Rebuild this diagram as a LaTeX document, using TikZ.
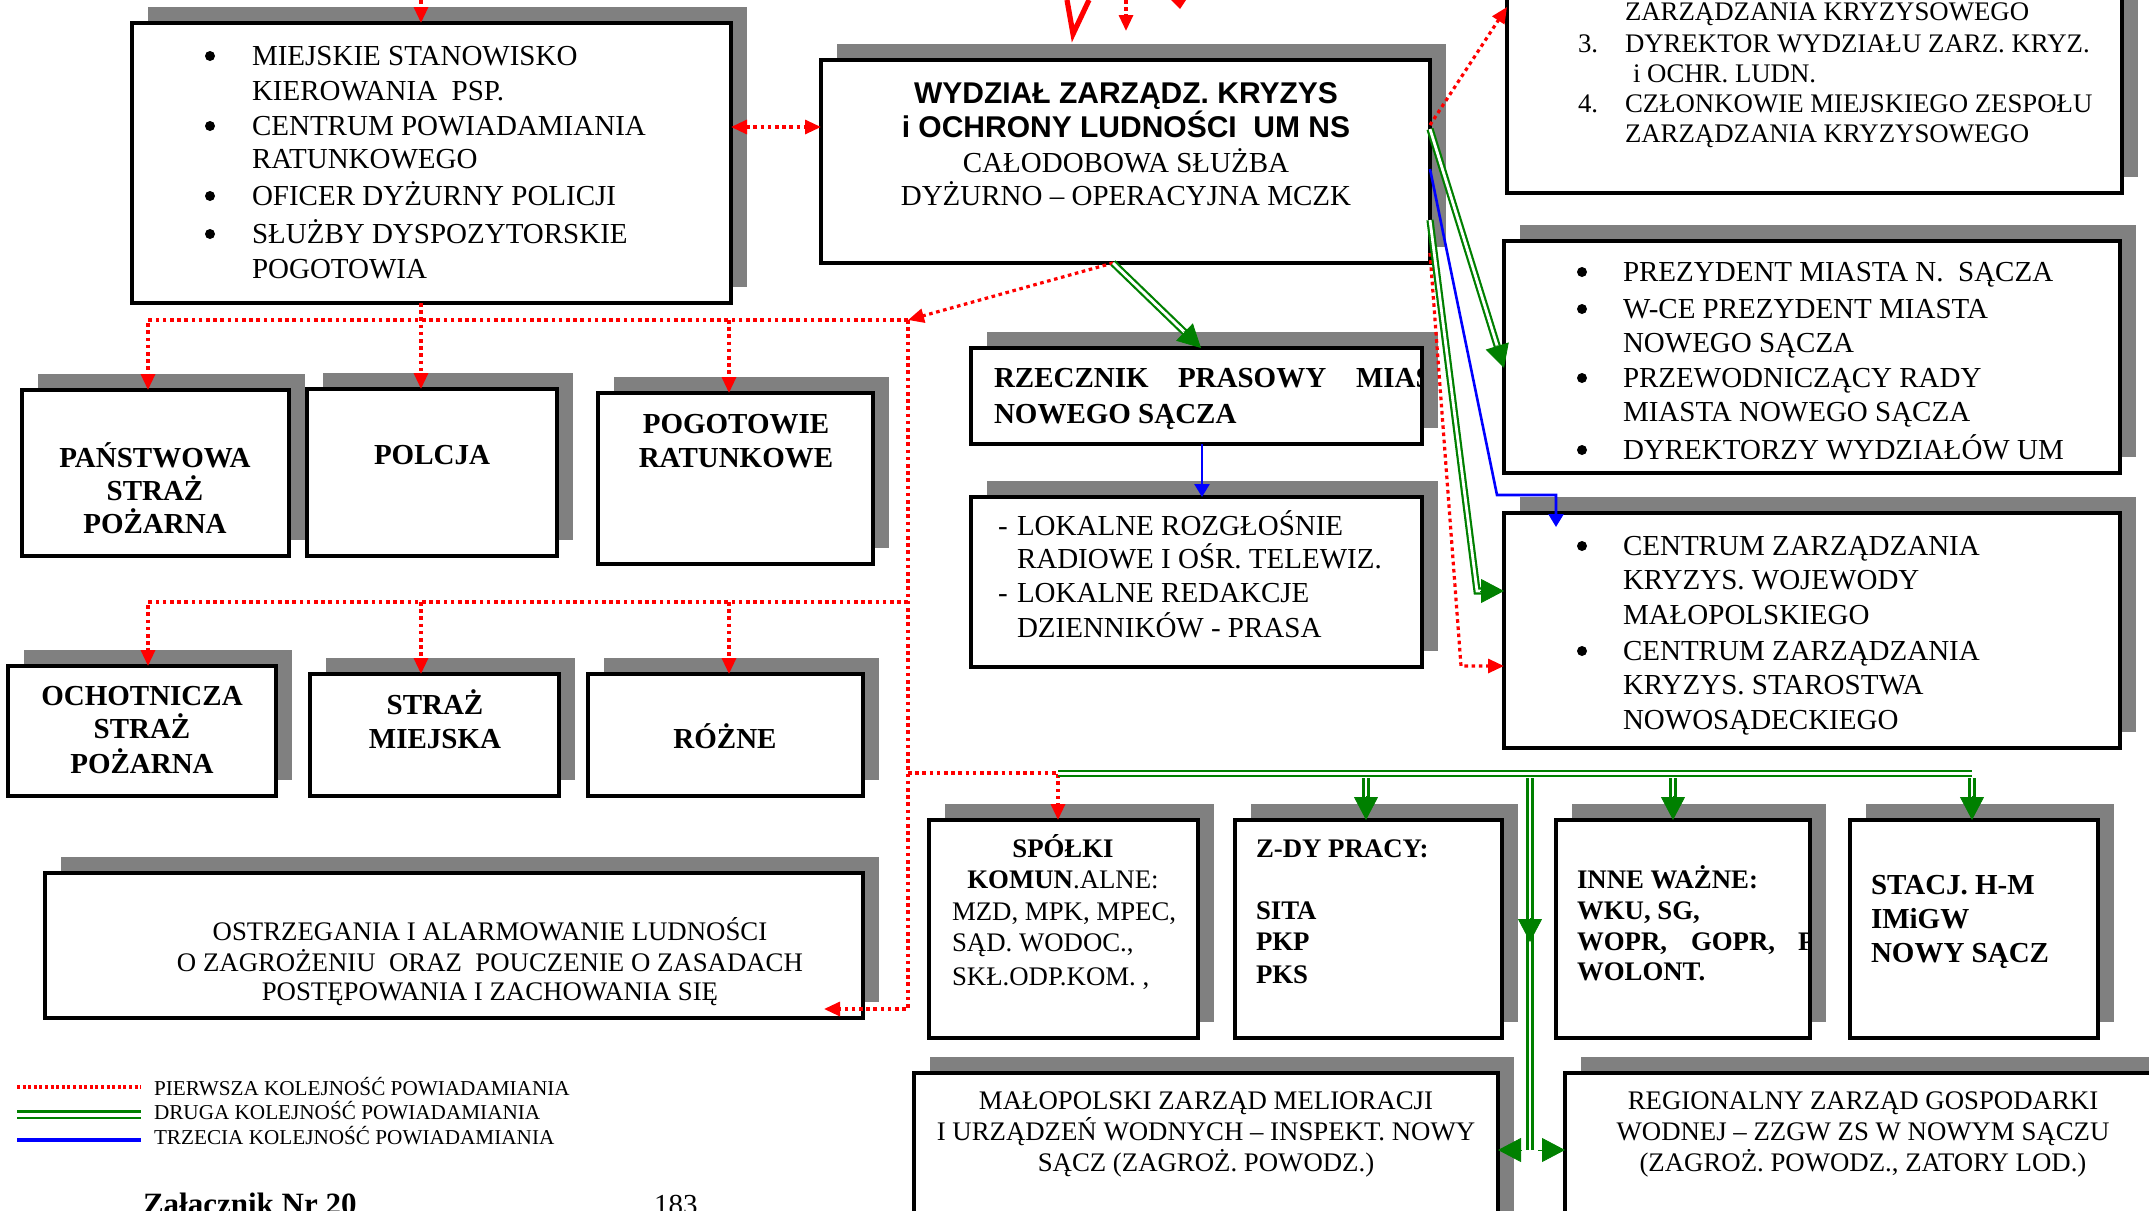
\documentclass[tikz,border=0pt]{standalone}
\usepackage{fontspec}
\setmainfont{Liberation Serif}
\newfontfamily\sansbold{Liberation Sans}
\usetikzlibrary{arrows.meta,calc,fit,shadows}
\definecolor{shadowgray}{RGB}{128,128,128}
\definecolor{lgreen}{RGB}{0,128,0}
\definecolor{lblue}{RGB}{0,0,255}
\definecolor{lred}{RGB}{255,0,0}
\tikzset{
  frame/.style={draw=black, fill=white, line width=1.6pt, inner sep=0pt, outer sep=0pt,
    drop shadow={shadow xshift=8pt, shadow yshift=8pt, fill=shadowgray, opacity=1}},
  heavy/.style={frame, line width=2.1pt},
  tL/.style={inner sep=0pt, outer sep=0pt, anchor=base west},
  tC/.style={inner sep=0pt, outer sep=0pt, anchor=base},
  dot/.style={circle, fill=black, draw=none, inner sep=0pt, minimum size=5pt},
  fbig/.style={font=\fontsize{14.5}{17}\selectfont},
  fbigb/.style={font=\fontsize{14.5}{17}\selectfont\bfseries},
  fmid/.style={font=\fontsize{13.4}{16}\selectfont},
  fmidb/.style={font=\fontsize{13.4}{16}\selectfont\bfseries},
  fleg/.style={font=\fontsize{10.6}{12}\selectfont},
  fttl/.style={font=\sansbold\bfseries\fontsize{15}{17}\selectfont},
  rd/.style={draw=lred, line width=1.6pt, dash pattern=on 1.8pt off 1.8pt},
  rtip/.style={-{Triangle[length=8pt,width=7pt]}},
  rtips/.style={{Triangle[length=8pt,width=7pt]}-{Triangle[length=8pt,width=7pt]}},
  gd/.style={draw=lgreen, line width=1.1pt, double=white, double distance=1.4pt},
  gtip/.style={draw=lgreen, line width=0.4pt, -{Triangle[length=11.5pt,width=12pt]}},
  bl/.style={draw=lblue, line width=1.3pt},
  btip/.style={-{Triangle[length=6.5pt,width=7.5pt]}},
}
% double green connector ending in a filled head: #1 leading path, #2 last bend, #3 tip
\newcommand\garrow[3]{%
  \draw[gd] #1 (#2) -- ($(#3)!10pt!(#2)$);
  \draw[gtip] ($(#3)!12pt!(#2)$) -- (#3);}
\begin{document}
\begin{tikzpicture}[x=0.5pt,y=-0.5pt]
\useasboundingbox (0,0) rectangle (2149,1211);
\clip (0,0) rectangle (2149,1211);
\fill[white] (0,0) rectangle (2149,1211);

% ---------- boxes ----------
\node[heavy, fit={(132,23)(731,303)}] (A) {};
\node[heavy, fit={(821,60)(1430,263)}] (B) {};
\node[frame, fit={(1507,-60)(2122,193)}] (C) {};
\node[frame, fit={(1504,241)(2120,473)}] (D) {};
\node[frame, fit={(1504,513)(2120,748)}] (E) {};
\node[frame, fit={(971,348)(1422,444)}] (RZ) {};
\node[frame, fit={(971,497)(1422,667)}] (LK) {};
\node[frame, fit={(22,390)(289,556)}] (PS) {};
\node[frame, fit={(307,389)(557,556)}] (PO) {};
\node[frame, fit={(598,393)(873,564)}] (PG) {};
\node[frame, fit={(8,666)(276,796)}] (OS) {};
\node[frame, fit={(310,674)(559,796)}] (SM) {};
\node[frame, fit={(588,674)(863,796)}] (RO) {};
\node[frame, fit={(45,873)(863,1018)}] (OST) {};
\node[frame, fit={(929,820)(1198,1038)}] (SP) {};
\node[frame, fit={(1235,820)(1502,1038)}] (ZD) {};
\node[frame, fit={(1556,820)(1810,1038)}] (IN) {};
\node[frame, fit={(1850,820)(2098,1038)}] (ST) {};
\node[frame, fit={(914,1073)(1498,1260)}] (MZ) {};
\node[frame, fit={(1565,1073)(2200,1260)}] (RG) {};

% ---------- texts ----------
% dispatch services
\node[dot] (ab1) at (210,56) {};
\node[tL,fbig] (a1) at (252,65) {MIEJSKIE STANOWISKO};
\node[tL,fbig] (a2) at (252,100) {KIEROWANIA~ PSP.};
\node[dot] (ab2) at (210,126) {};
\node[tL,fbig] (a3) at (252,135) {CENTRUM POWIADAMIANIA};
\node[tL,fbig] (a4) at (252,168) {RATUNKOWEGO};
\node[dot] (ab3) at (210,196) {};
\node[tL,fbig] (a5) at (252,205) {OFICER DYŻURNY POLICJI};
\node[dot] (ab4) at (210,234) {};
\node[tL,fbig] (a6) at (252,243) {SŁUŻBY DYSPOZYTORSKIE};
\node[tL,fbig] (a7) at (252,278) {POGOTOWIA};

% central unit
\node[tC,fttl] (b1) at (1126,103) {WYDZIAŁ ZARZĄDZ. KRYZYS};
\node[tC,fttl] (b2) at (1126,137) {i OCHRONY LUDNOŚCI~ UM NS};
\node[tC,fbig] (b3) at (1126,172) {CAŁODOBOWA SŁUŻBA};
\node[tC,fbig] (b4) at (1126,205) {DYŻURNO – OPERACYJNA MCZK};

% crisis team list
\node[tL,fmid] (c0) at (1625,20) {ZARZĄDZANIA KRYZYSOWEGO};
\node[tL,fmid] (c3n) at (1578,52) {3.};
\node[tL,fmid] (c3) at (1625,52) {DYREKTOR WYDZIAŁU ZARZ. KRYZ.};
\node[tL,fmid] (c3b) at (1633,82) {i OCHR. LUDN.};
\node[tL,fmid] (c4n) at (1578,112) {4.};
\node[tL,fmid] (c4) at (1625,112) {CZŁONKOWIE MIEJSKIEGO ZESPOŁU};
\node[tL,fmid] (c5) at (1625,142) {ZARZĄDZANIA KRYZYSOWEGO};

% city authorities
\node[dot] (db1) at (1582,272) {};
\node[tL,fbig] (d1) at (1623,281) {PREZYDENT MIASTA N.~ SĄCZA};
\node[dot] (db2) at (1582,309) {};
\node[tL,fbig] (d2) at (1623,318) {W-CE PREZYDENT MIASTA};
\node[tL,fbig] (d3) at (1623,352) {NOWEGO SĄCZA};
\node[dot] (db3) at (1582,378) {};
\node[tL,fbig] (d4) at (1623,387) {PRZEWODNICZĄCY RADY};
\node[tL,fbig] (d5) at (1623,421) {MIASTA NOWEGO SĄCZA};
\node[dot] (db4) at (1582,450) {};
\node[tL,fbig] (d6) at (1623,459) {DYREKTORZY WYDZIAŁÓW UM};

% crisis centres
\node[dot] (eb1) at (1582,546) {};
\node[tL,fbig] (e1) at (1623,555) {CENTRUM ZARZĄDZANIA};
\node[tL,fbig] (e2) at (1623,589) {KRYZYS. WOJEWODY};
\node[tL,fbig] (e3) at (1623,624) {MAŁOPOLSKIEGO};
\node[dot] (eb2) at (1582,651) {};
\node[tL,fbig] (e4) at (1623,660) {CENTRUM ZARZĄDZANIA};
\node[tL,fbig] (e5) at (1623,694) {KRYZYS. STAROSTWA};
\node[tL,fbig] (e6) at (1623,729) {NOWOSĄDECKIEGO};

% press officer (justified line runs into the frame)
\begin{scope}
\clip (973,350) rectangle (1420,442);
\node[tL,fbigb] (r1) at (994,387) {RZECZNIK};
\node[tL,fbigb] (r2) at (1178,387) {PRASOWY};
\node[tL,fbigb] (r3) at (1356,387) {MIAS};
\end{scope}
\node[tL,fbigb] (r4) at (994,423) {NOWEGO SĄCZA};

% media
\node[tL,fbig] (ld1) at (998,535) {-};
\node[tL,fbig] (l1) at (1017,535) {LOKALNE ROZGŁOŚNIE};
\node[tL,fbig] (l2) at (1017,568) {RADIOWE I OŚR. TELEWIZ.};
\node[tL,fbig] (ld2) at (998,602) {-};
\node[tL,fbig] (l3) at (1017,602) {LOKALNE REDAKCJE};
\node[tL,fbig] (l4) at (1017,637) {DZIENNIKÓW - PRASA};

% services
\node[tC,fbigb] (p1) at (155,467) {PAŃSTWOWA};
\node[tC,fbigb] (p2) at (155,500) {STRAŻ};
\node[tC,fbigb] (p3) at (155,533) {POŻARNA};
\node[tC,fbigb] (po1) at (432,464) {POLCJA};
\node[tC,fbigb] (pg1) at (736,433) {POGOTOWIE};
\node[tC,fbigb] (pg2) at (736,467) {RATUNKOWE};
\node[tC,fbigb] (o1) at (142,705) {OCHOTNICZA};
\node[tC,fbigb] (o2) at (142,738) {STRAŻ};
\node[tC,fbigb] (o3) at (142,773) {POŻARNA};
\node[tC,fbigb] (sm1) at (435,714) {STRAŻ};
\node[tC,fbigb] (sm2) at (435,748) {MIEJSKA};
\node[tC,fbigb] (ro1) at (725,748) {RÓŻNE};

% warning of the population
\node[tC,fmid] (w1) at (490,940) {OSTRZEGANIA I ALARMOWANIE LUDNOŚCI};
\node[tC,fmid] (w2) at (490,971) {O ZAGROŻENIU~ ORAZ~ POUCZENIE O ZASADACH};
\node[tC,fmid] (w3) at (490,1000) {POSTĘPOWANIA I ZACHOWANIA SIĘ};

% utilities and institutions
\node[tC,fmidb] (s1) at (1063,857) {SPÓŁKI};
\node[tC,fmid] (s2) at (1063,888) {\textbf{KOMUN}.ALNE:};
\node[tL,fmid] (s3) at (952,920) {MZD, MPK, MPEC,};
\node[tL,fmid] (s4) at (952,951) {SĄD. WODOC.,};
\node[tL,fmid] (s5) at (952,985) {SKŁ.ODP.KOM. ,};

\node[tL,fmidb] (z1) at (1256,857) {Z-DY PRACY:};
\node[tL,fmidb] (z2) at (1256,919) {SITA};
\node[tL,fmidb] (z3) at (1256,950) {PKP};
\node[tL,fmidb] (z4) at (1256,983) {PKS};

\begin{scope}
\clip (1558,822) rectangle (1808,1036);
\node[tL,fmidb] (i1) at (1577,888) {INNE WAŻNE:};
\node[tL,fmidb] (i2) at (1577,919) {WKU, SG,};
\node[tL,fmidb] (i3) at (1577,950) {WOPR,};
\node[tL,fmidb] (i4) at (1691,950) {GOPR,};
\node[tL,fmidb] (i5) at (1798,950) {P};
\node[tL,fmidb] (i6) at (1577,980) {WOLONT.};
\end{scope}

\node[tL,fbigb] (h1) at (1871,894) {STACJ. H-M};
\node[tL,fbigb] (h2) at (1871,928) {IMiGW};
\node[tL,fbigb] (h3) at (1871,962) {NOWY SĄCZ};

\node[tC,fmid] (m1) at (1206,1109) {MAŁOPOLSKI ZARZĄD MELIORACJI};
\node[tC,fmid] (m2) at (1206,1140) {I URZĄDZEŃ WODNYCH – INSPEKT. NOWY};
\node[tC,fmid] (m3) at (1206,1171) {SĄCZ (ZAGROŻ. POWODZ.)};

\node[tC,fmid] (g1) at (1863,1109) {REGIONALNY ZARZĄD GOSPODARKI};
\node[tC,fmid] (g2) at (1863,1140) {WODNEJ – ZZGW ZS W NOWYM SĄCZU};
\node[tC,fmid] (g3) at (1863,1171) {(ZAGROŻ. POWODZ., ZATORY LOD.)};

% ---------- red: first order of notification ----------
\coordinate (topin) at (421,0);
\draw[rd,rtip] (topin) -- (A.north -| topin);
\coordinate (abrow) at (0,127);
\draw[rd,rtips] (A.east |- abrow) -- (B.west |- abrow);
\coordinate (bc1) at (0,125);
\coordinate (bc2) at (0,7);
\draw[rd,rtip] (B.east |- bc1) -- (C.west |- bc2);

\coordinate (bsplit) at (1113,0);
\coordinate (bsout) at (B.south -| bsplit);
\coordinate (rc) at (908,320);
\draw[rd,rtip] (bsout) -- (rc);

\coordinate (x148) at (148,0);
\coordinate (x421) at (421,0);
\coordinate (x729) at (729,0);
\coordinate (x1058) at (1058,0);
\draw[rd,rtip] (rc) -- (rc -| x148) -- (PS.north -| x148);
\draw[rd,rtip] (A.south -| x421) -- (PO.north -| x421);
\draw[rd,rtip] (rc -| x729) -- (PG.north -| x729);

\coordinate (rlow) at (908,602);
\coordinate (rsp) at (908,773);
\coordinate (rbot) at (908,1009);
\coordinate (ostin) at ($(OST.east |- rbot)+(-39,0)$);
\draw[rd,rtip] (rc) -- (rbot) -- (ostin);
\draw[rd,rtip] (rlow) -- (rlow -| x148) -- (OS.north -| x148);
\draw[rd,rtip] (rlow -| x421) -- (SM.north -| x421);
\draw[rd,rtip] (rlow -| x729) -- (RO.north -| x729);
\draw[rd,rtip] (rsp) -- (rsp -| x1058) -- (SP.north -| x1058);

\coordinate (be4) at (0,253);
\coordinate (rE) at (1461,666);
\draw[rd,rtip] (B.east |- be4) -- (rE) -- (E.west |- rE);

% ---------- green: second order of notification ----------
\coordinate (x1201) at (1201,0);
\coordinate (g1t) at (RZ.north -| x1201);
\garrow{}{bsout}{g1t}

\coordinate (g2s) at (B.east |- 0,129);
\coordinate (g2t) at (D.west |- 0,368);
\garrow{}{g2s}{g2t}

\coordinate (g3s) at (B.east |- 0,220);
\coordinate (g3c) at (1477,591);
\coordinate (g3t) at (E.west |- g3c);
\garrow{(g3s) --}{g3c}{g3t}

\coordinate (gL) at (1058,773.5);
\coordinate (gR) at (1972,773.5);
\draw[gd] (gL) -- (gR);
\coordinate (gz) at (1366,778);
\coordinate (gi) at (1673,778);
\coordinate (gs) at (1972,778);
\garrow{}{gz}{ZD.north -| gz}
\garrow{}{gi}{IN.north -| gi}
\garrow{}{gs}{ST.north -| gs}

\coordinate (gC1) at (1530,778);
\coordinate (gC2) at (1530,1150);
\draw[gd] (gC1) -- (gC2);
\draw[gtip] (1530,918) -- (1530,942);
\coordinate (gCl) at (1522,1150);
\coordinate (gCr) at (1538,1150);
\draw[gtip] (gCl) -- (MZ.east |- gC2);
\draw[gtip] (gCr) -- (RG.west |- gC2);

% ---------- blue: third order of notification ----------
\coordinate (x1202) at (1202,0);
\draw[bl,btip] (RZ.south -| x1202) -- (LK.north -| x1202);
\coordinate (bs) at (B.east |- 0,169);
\coordinate (bk1) at (1497,495);
\coordinate (bk2) at (1556,495);
\coordinate (bt) at (1556,527);
\draw[bl,btip] (bs) -- (bk1) -- (bk2) -- (bt);

% ---------- arrows entering from above ----------
\coordinate (v1) at (1067,0);
\coordinate (v2) at (1073,34);
\coordinate (v3) at (1089,0);
\draw[lred, line width=2.6pt, line join=miter] (v1) -- (v2) -- (v3);
\coordinate (sd1) at (1126,0);
\coordinate (sd2) at (1126,31);
\draw[rd,rtip] (sd1) -- (sd2);
\fill[lred] (1171,0) -- (1186,0) -- (1180,9) -- cycle;

% ---------- legend ----------
\coordinate (lr1) at (17,1087);
\coordinate (lr2) at (141,1087);
\draw[lred, line width=2.2pt, dash pattern=on 1.5pt off 1.3pt] (lr1) -- (lr2);
\coordinate (lg1) at (17,1114.5);
\coordinate (lg2) at (141,1114.5);
\draw[draw=lgreen, line width=1.4pt, double=white, double distance=2pt] (lg1) -- (lg2);
\coordinate (lb1) at (17,1140);
\coordinate (lb2) at (141,1140);
\draw[lblue, line width=2pt] (lb1) -- (lb2);
\node[tL,fleg] (k1) at (154,1095) {PIERWSZA KOLEJNOŚĆ POWIADAMIANIA};
\node[tL,fleg] (k2) at (154,1119) {DRUGA KOLEJNOŚĆ POWIADAMIANIA};
\node[tL,fleg] (k3) at (154,1144) {TRZECIA KOLEJNOŚĆ POWIADAMIANIA};

% ---------- footer ----------
\node[tL,font=\fontsize{15.5}{18}\selectfont\bfseries] (f1) at (143,1214) {Załącznik Nr 20};
\node[tL,fbig] (f2) at (654,1214) {183};
\end{tikzpicture}
\end{document}
